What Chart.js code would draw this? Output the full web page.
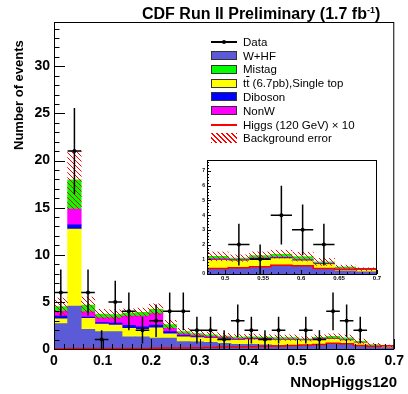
<!DOCTYPE html>
<html>
<head>
<meta charset="utf-8">
<title>NNopHiggs120</title>
<script src="https://cdn.jsdelivr.net/npm/chart.js@4/dist/chart.umd.min.js"></script>
<style>
  html, body { margin: 0; padding: 0; background: #fff; }
  #wrap { position: relative; width: 408px; height: 394px; overflow: hidden; font-family: 'Liberation Sans', Arial, sans-serif; color: #000; }
  canvas { position: absolute; }
  #main { left: 0; top: 0; }
  #inset { left: 196px; top: 155px; }
  .txt { position: absolute; white-space: nowrap; font-weight: bold; }
  #title { left: 142px; top: 6px; font-size: 16px; line-height: 16px; }
  #title sup { font-size: 9px; vertical-align: 6px; line-height: 0; }
  #xtitle { right: 11px; top: 374px; font-size: 15px; line-height: 15px; }
  #ytitle { left: 12px; top: 150px; font-size: 13px; line-height: 13px; transform-origin: 0 0; transform: rotate(-90deg); }
  .leg { position: absolute; left: 211px; height: 14px; display: flex; align-items: center; font-size: 11.5px; white-space: nowrap; }
  .sw { position: relative; width: 26px; height: 9px; box-sizing: border-box; border: 1px solid #333; margin-right: 6px; flex: none; }
  .sw.line { border: none; }
  .sw.line::before { content: ''; position: absolute; left: 0; right: 0; top: 4px; height: 1.5px; background: #000; }
  .sw.dot::after { content: ''; position: absolute; left: 11px; top: 2.7px; width: 4px; height: 4px; border-radius: 2px; background: #000; }
  .sw.red::before { background: #f00; }
  .sw.hatch { border: none; height: 10px; background: repeating-linear-gradient(45deg, #f00 0 1px, transparent 1px 3.5px); }
  .ov { text-decoration: overline; }
</style>
</head>
<body>
<div id="wrap">
  <canvas id="main" width="408" height="394"></canvas>
  <canvas id="inset" width="188" height="133"></canvas>

  <div class="txt" id="title">CDF Run II Preliminary (1.7 fb<sup>-1</sup>)</div>
  <div class="txt" id="ytitle">Number of events</div>
  <div class="txt" id="xtitle">NNopHiggs120</div>

  <div class="leg" style="top:34.7px"><span class="sw line dot"></span>Data</div>
  <div class="leg" style="top:48.5px"><span class="sw" style="background:#5b5bd8"></span>W+HF</div>
  <div class="leg" style="top:62.3px"><span class="sw" style="background:#00ff00"></span>Mistag</div>
  <div class="leg" style="top:76.1px"><span class="sw" style="background:#ffff00"></span>t<span class="ov">t</span>&nbsp;(6.7pb),Single top</div>
  <div class="leg" style="top:89.9px"><span class="sw" style="background:#0000ff"></span>Diboson</div>
  <div class="leg" style="top:103.7px"><span class="sw" style="background:#ff00ff"></span>NonW</div>
  <div class="leg" style="top:117.5px"><span class="sw line red"></span>Higgs (120 GeV) &times; 10</div>
  <div class="leg" style="top:131.3px"><span class="sw hatch"></span>Background error</div>
</div>

<script>
// bins of NNopHiggs120 (25 bins, width 0.028)
const binWidth = 0.028;
const binCenters = [0.014, 0.042, 0.070, 0.098, 0.126, 0.154, 0.182, 0.210, 0.238, 0.266,
                    0.294, 0.322, 0.350, 0.378, 0.406, 0.434, 0.462, 0.490, 0.518, 0.546,
                    0.574, 0.602, 0.630, 0.658, 0.686];

// observed events
const dataCounts = [6, 21, 6, 1, 5, 4, 2, 3, 4, 4, 2, 2, 1, 3, 2, 1, 2, 0, 2, 1, 4, 3, 2, 0, 0];

// backgrounds (stack order, bottom to top)
const wHF       = [2.7, 4.56, 2.1, 1.85, 1.85, 1.3, 1.3, 1.15, 1.15, 0.8, 0.75, 0.7, 0.6, 0.5, 0.5, 0.45, 0.4, 0.35, 0.4, 0.45, 0.6, 0.55, 0.35, 0.2, 0.15];
const topSingle = [0.5, 8.17, 1.15, 0.8, 0.7, 0.9, 0.8, 1.1, 0.45, 0.5, 0.45, 0.45, 0.45, 0.45, 0.5, 0.55, 0.55, 0.6, 0.5, 0.55, 0.45, 0.35, 0.3, 0.15, 0.1];
const diboson   = [0.3, 0.45, 0.15, 0.15, 0.2, 0.3, 0.25, 0.3, 0.25, 0.15, 0.12, 0.1, 0.08, 0.08, 0.07, 0.07, 0.06, 0.05, 0.05, 0.06, 0.06, 0.05, 0.04, 0.03, 0.02];
const nonW      = [0.5, 1.67, 0.55, 0.5, 0.55, 1.0, 1.15, 1.2, 0.35, 0.15, 0.12, 0.1, 0.1, 0.08, 0.08, 0.05, 0.05, 0.05, 0.03, 0.04, 0.04, 0.03, 0.03, 0.02, 0.01];
const mistag    = [0.5, 3.1, 0.7, 0.4, 0.35, 0.3, 0.4, 0.45, 0.4, 0.25, 0.2, 0.15, 0.15, 0.15, 0.15, 0.15, 0.15, 0.15, 0.1, 0.15, 0.2, 0.2, 0.1, 0.08, 0.04];
const bgError   = [0.9, 3.1, 0.85, 0.5, 0.5, 0.45, 0.45, 0.6, 0.45, 0.35, 0.3, 0.3, 0.28, 0.26, 0.27, 0.27, 0.26, 0.3, 0.22, 0.25, 0.27, 0.3, 0.24, 0.12, 0.1];

// Higgs (120 GeV) x 10
const higgsX10  = [0.02, 0.04, 0.05, 0.05, 0.05, 0.06, 0.06, 0.08, 0.1, 0.1, 0.12, 0.15, 0.2, 0.22, 0.25, 0.28, 0.32, 0.38, 0.42, 0.49, 0.6, 0.56, 0.38, 0.3, 0.35];

// axis ticks
const xTicks = [0, 0.1, 0.2, 0.3, 0.4, 0.5, 0.6, 0.7];
const yTicks = [0, 5, 10, 15, 20, 25, 30];
const insetXTicks = [0.5, 0.55, 0.6, 0.65, 0.7];
const insetYTicks = [0, 1, 2, 3, 4, 5, 6, 7];

const layers = [
  { label: 'W+HF', values: wHF, color: '#5b5bd8' },
  { label: 'tt (6.7pb),Single top', values: topSingle, color: '#ffff00' },
  { label: 'Diboson', values: diboson, color: '#0000ff' },
  { label: 'NonW', values: nonW, color: '#ff00ff' },
  { label: 'Mistag', values: mistag, color: '#00ff00' }
];

Chart.defaults.font.family = "'Liberation Sans', Arial, sans-serif";
Chart.defaults.color = '#000';

function hatchPattern(ctx) {
  const tile = document.createElement('canvas');
  tile.width = 5;
  tile.height = 5;
  const t = tile.getContext('2d');
  t.strokeStyle = '#ff0000';
  t.lineWidth = 1;
  t.beginPath();
  t.moveTo(0, 0); t.lineTo(5, 5);
  t.moveTo(-1, 4); t.lineTo(1, 6);
  t.moveTo(4, -1); t.lineTo(6, 1);
  t.stroke();
  return ctx.createPattern(tile, 'repeat');
}

function buildDatasets(hatch) {
  const bar = { type: 'bar', grouped: false, barPercentage: 1, categoryPercentage: 1, borderWidth: 0 };

  // stacked backgrounds as floating bars
  const base = binCenters.map(() => 0);
  const stackSets = layers.map(layer => {
    const d = binCenters.map((c, i) => {
      const lo = base[i];
      base[i] += layer.values[i];
      return { x: c, y: [lo, base[i]] };
    });
    return Object.assign({}, bar, { label: layer.label, data: d, backgroundColor: layer.color });
  });

  const band = Object.assign({}, bar, {
    label: 'Background error',
    data: binCenters.map((c, i) => ({ x: c, y: [base[i] - bgError[i], base[i] + bgError[i]] })),
    backgroundColor: hatch
  });

  const higgsPts = [];
  binCenters.forEach((c, i) => {
    higgsPts.push({ x: c - binWidth / 2, y: higgsX10[i] }, { x: c + binWidth / 2, y: higgsX10[i] });
  });
  higgsPts.push({ x: binCenters[binCenters.length - 1] + binWidth / 2, y: 0 });
  const higgs = {
    type: 'line', label: 'Higgs', data: higgsPts,
    borderColor: '#ff0000', borderWidth: 1.5, pointRadius: 0, fill: false, tension: 0
  };

  // error bars: horizontal = bin width, vertical = sqrt(n)
  const errPts = [];
  binCenters.forEach((c, i) => {
    const n = dataCounts[i];
    if (n <= 0) return;
    const e = Math.sqrt(n);
    errPts.push({ x: c - binWidth / 2, y: n }, { x: c + binWidth / 2, y: n }, { x: c, y: null });
    errPts.push({ x: c, y: n - e }, { x: c, y: n + e }, { x: c, y: null });
  });
  const errBars = {
    type: 'line', label: 'Data errors', data: errPts, spanGaps: false,
    borderColor: '#000', borderWidth: 1.5, pointRadius: 0, fill: false, tension: 0
  };

  const points = {
    type: 'line', label: 'Data', showLine: false,
    data: binCenters.map((c, i) => ({ x: c, y: dataCounts[i] > 0 ? dataCounts[i] : null })),
    pointRadius: 2, pointBackgroundColor: '#000', pointBorderWidth: 0
  };

  // first dataset is drawn on top
  return [points, errBars, higgs, band].concat(stackSets);
}

// frame + ROOT style inward ticks
const frameTicks = {
  id: 'frameTicks',
  beforeDraw(chart, args, o) {
    if (!o.background) return;
    const ctx = chart.ctx;
    ctx.save();
    ctx.fillStyle = '#fff';
    ctx.fillRect(0, 0, chart.width, chart.height);
    ctx.restore();
  },
  afterDatasetsDraw(chart, args, o) {
    const { ctx, chartArea: a, scales: { x, y } } = chart;
    ctx.save();
    ctx.strokeStyle = '#000';
    ctx.lineWidth = 1;
    ctx.beginPath();
    for (let k = Math.ceil(x.min / o.xMinor - 1e-6); k * o.xMinor <= x.max + 1e-9; k++) {
      const v = k * o.xMinor;
      const major = Math.abs(v / o.xMajor - Math.round(v / o.xMajor)) < 1e-6;
      const px = Math.round(x.getPixelForValue(v)) + 0.5;
      ctx.moveTo(px, a.bottom);
      ctx.lineTo(px, a.bottom - (major ? o.xLen : o.xLen / 2));
    }
    for (let k = Math.ceil(y.min / o.yMinor - 1e-6); k * o.yMinor <= y.max + 1e-9; k++) {
      const v = k * o.yMinor;
      const major = Math.abs(v / o.yMajor - Math.round(v / o.yMajor)) < 1e-6;
      const py = Math.round(y.getPixelForValue(v)) + 0.5;
      ctx.moveTo(a.left, py);
      ctx.lineTo(a.left + (major ? o.yLen : o.yLen / 2), py);
    }
    ctx.stroke();
    ctx.strokeRect(a.left + 0.5, a.top + 0.5, a.right - a.left - 1, a.bottom - a.top);
    ctx.restore();
  }
};

function drawHist(canvasId, cfg) {
  const canvas = document.getElementById(canvasId);
  const hatch = hatchPattern(canvas.getContext('2d'));
  return new Chart(canvas, {
    type: 'bar',
    data: { datasets: buildDatasets(hatch) },
    options: {
      responsive: false,
      animation: false,
      devicePixelRatio: 1,
      events: [],
      layout: { padding: cfg.padding },
      plugins: {
        legend: { display: false },
        tooltip: { enabled: false },
        frameTicks: cfg.ticks
      },
      scales: {
        x: {
          type: 'linear', min: cfg.xMin, max: cfg.xMax, offset: false,
          grid: { display: false, drawTicks: false },
          border: { display: false },
          ticks: { padding: cfg.xPad, autoSkip: false, maxRotation: 0, font: cfg.xFont, callback: v => String(v) },
          afterBuildTicks: s => { s.ticks = cfg.xTicks.map(v => ({ value: v })); },
          afterFit: s => { s.height = cfg.xHeight; }
        },
        y: {
          type: 'linear', min: 0, max: cfg.yMax,
          grid: { display: false, drawTicks: false },
          border: { display: false },
          ticks: { padding: cfg.yPad, font: cfg.yFont },
          afterBuildTicks: s => { s.ticks = cfg.yTicks.map(v => ({ value: v })); },
          afterFit: s => { s.width = cfg.yWidth; }
        }
      }
    },
    plugins: [frameTicks]
  });
}

drawHist('main', {
  padding: { top: 22, right: 11, bottom: 0, left: 0 },
  xMin: 0, xMax: 0.7, yMax: 34.7,
  xTicks: xTicks, yTicks: yTicks,
  xHeight: 45, yWidth: 54, xPad: 4, yPad: 4,
  xFont: { size: 14, weight: 'bold' }, yFont: { size: 14, weight: 'bold' },
  ticks: { xMajor: 0.1, xMinor: 0.02, xLen: 10, yMajor: 5, yMinor: 1, yLen: 11 }
});

drawHist('inset', {
  padding: { top: 4, right: 7, bottom: 0, left: 0 },
  xMin: 0.476, xMax: 0.7, yMax: 7.75,
  xTicks: insetXTicks, yTicks: insetYTicks,
  xHeight: 14, yWidth: 11, xPad: 1, yPad: 2,
  xFont: { size: 6, weight: 'bold' }, yFont: { size: 5, weight: 'bold' },
  ticks: { background: true, xMajor: 0.05, xMinor: 0.01, xLen: 4, yMajor: 1, yMinor: 0.2, yLen: 4 }
});
</script>
</body>
</html>
